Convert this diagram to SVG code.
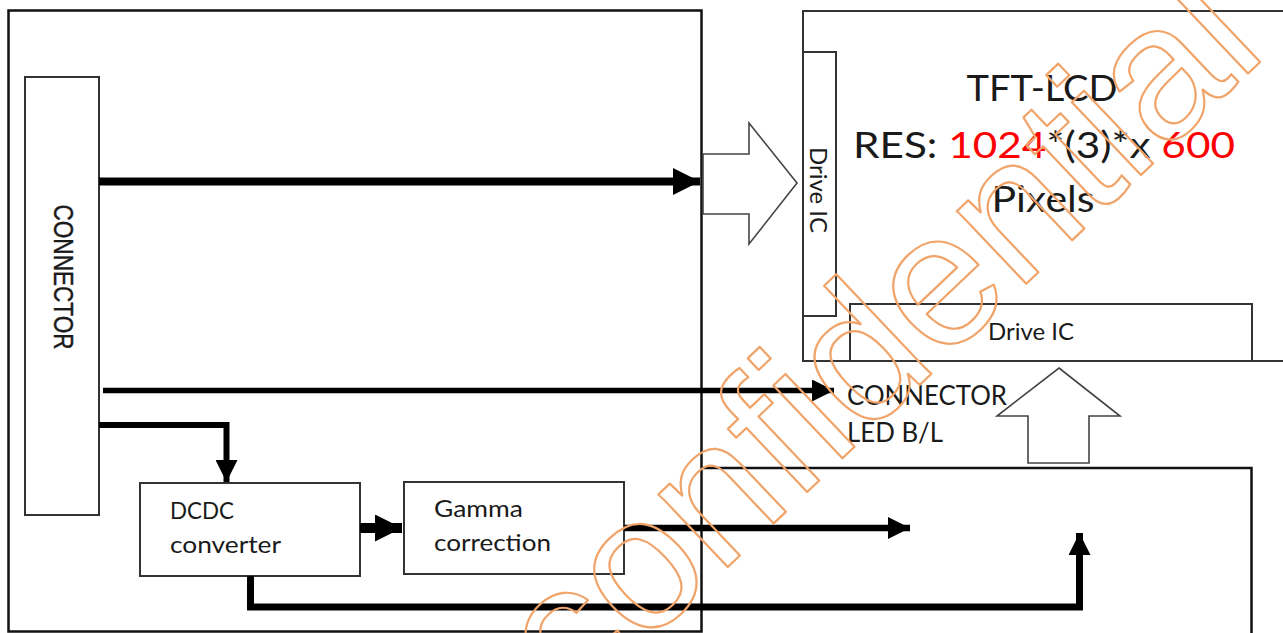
<svg xmlns="http://www.w3.org/2000/svg" width="1283" height="633" viewBox="0 0 1283 633">
<style>
.frame{fill:none;stroke:#111;stroke-width:2.5}
.box{fill:#fff;stroke:#333;stroke-width:2}
.hollow{fill:#fff;stroke:#444;stroke-width:1.6;stroke-linejoin:miter}
.lbl{font-family:Lato,"Open Sans","Liberation Sans",sans-serif;fill:#1a1a1a}
.big{font-size:37px}
.mid{font-size:27px}
.sm{font-size:23px}
.red{fill:#ff0000}
.wire{fill:none;stroke:#000;stroke-linejoin:miter}
.wm{font-family:"Liberation Sans",Arial,sans-serif;font-size:190px;fill:none;stroke:#f0a46a;stroke-width:2.2;stroke-linejoin:round}
</style>
<defs>
<marker id="ah" viewBox="0 0 10 10" refX="10" refY="5" markerUnits="userSpaceOnUse" markerWidth="22" markerHeight="22" orient="auto">
<path d="M0,0 L10,5 L0,10 z" fill="#000"/>
</marker>
<marker id="ahL" viewBox="0 0 10 10" refX="10" refY="5" markerUnits="userSpaceOnUse" markerWidth="27" markerHeight="27" orient="auto">
<path d="M0,0 L10,5 L0,10 z" fill="#000"/>
</marker>
</defs>
<rect width="1283" height="633" fill="#fff"/>

<g id="left-board">
<rect class="frame" x="8.5" y="10.5" width="693" height="621"/>
</g>
<g id="right-board">
<path class="frame" d="M702,468 H1251.5 V640"/>
</g>

<g id="tft-lcd">
<rect class="box" x="803" y="11" width="490" height="350"/>
<text class="lbl big" x="1042" y="101" text-anchor="middle" textLength="151" lengthAdjust="spacingAndGlyphs">TFT-LCD</text>
<text class="lbl big" x="853" y="158" textLength="382" lengthAdjust="spacingAndGlyphs">RES: <tspan class="red">1024</tspan>*(3)*x <tspan class="red">600</tspan></text>
<text class="lbl big" x="1043" y="212" text-anchor="middle" textLength="103" lengthAdjust="spacingAndGlyphs">Pixels</text>
</g>

<g id="drive-ic-vertical">
<rect class="box" x="803" y="52" width="33" height="264"/>
<text class="lbl sm" transform="translate(810,190) rotate(90)" text-anchor="middle" textLength="86" lengthAdjust="spacingAndGlyphs">Drive IC</text>
</g>

<g id="drive-ic-horizontal">
<rect class="box" x="850" y="304" width="402" height="57"/>
<text class="lbl sm" x="1031" y="340" text-anchor="middle" textLength="86" lengthAdjust="spacingAndGlyphs">Drive IC</text>
</g>

<g id="connector">
<rect class="box" x="25" y="77" width="74" height="438"/>
<text transform="translate(54,277) rotate(90)" text-anchor="middle" font-family="'Liberation Sans',Arial,sans-serif" font-size="27" fill="#1a1a1a" stroke="#1a1a1a" stroke-width="0.4" textLength="145" lengthAdjust="spacingAndGlyphs">CONNECTOR</text>
</g>

<g id="dcdc-converter">
<rect class="box" x="140" y="483" width="220" height="93"/>
<text class="lbl sm" x="170" y="519" textLength="64" lengthAdjust="spacingAndGlyphs">DCDC</text>
<text class="lbl sm" x="170" y="553" textLength="111" lengthAdjust="spacingAndGlyphs">converter</text>
</g>

<g id="gamma-correction">
<rect class="box" x="404" y="482" width="220" height="92"/>
<text class="lbl sm" x="434" y="517" textLength="89" lengthAdjust="spacingAndGlyphs">Gamma</text>
<text class="lbl sm" x="434" y="551" textLength="117" lengthAdjust="spacingAndGlyphs">correction</text>
</g>

<g id="led-bl-label">
<text class="lbl mid" x="847" y="405" textLength="160" lengthAdjust="spacingAndGlyphs">CONNECTOR</text>
<text class="lbl mid" x="847" y="442" textLength="96" lengthAdjust="spacingAndGlyphs">LED B/L</text>
</g>

<g id="connectors">
<path class="wire" stroke-width="8" d="M99,181.5 H700" marker-end="url(#ahL)"/>
<path class="wire" stroke-width="5.5" d="M103,390.5 H834" marker-end="url(#ah)"/>
<path class="wire" stroke-width="6" d="M99,425 H226.5 V482" marker-end="url(#ah)"/>
<path class="wire" stroke-width="10" d="M360,528 H402" marker-end="url(#ahL)"/>
<path class="wire" stroke-width="6.5" d="M624,528 H910" marker-end="url(#ah)"/>
<path class="wire" stroke-width="7" d="M250.5,576 V607 H1079.5 V533" marker-end="url(#ah)"/>
<polygon class="hollow" points="703,154 749,154 749,123 797,183 749,244 749,214 703,214"/>
<polygon class="hollow" points="1059,368 1120,416 1089,416 1089,463 1028,463 1028,416 997,416"/>
</g>

<g id="watermark">
<text class="wm" transform="translate(573,714) rotate(-43.5)" textLength="960" lengthAdjust="spacingAndGlyphs">confidential</text>
</g>
</svg>
